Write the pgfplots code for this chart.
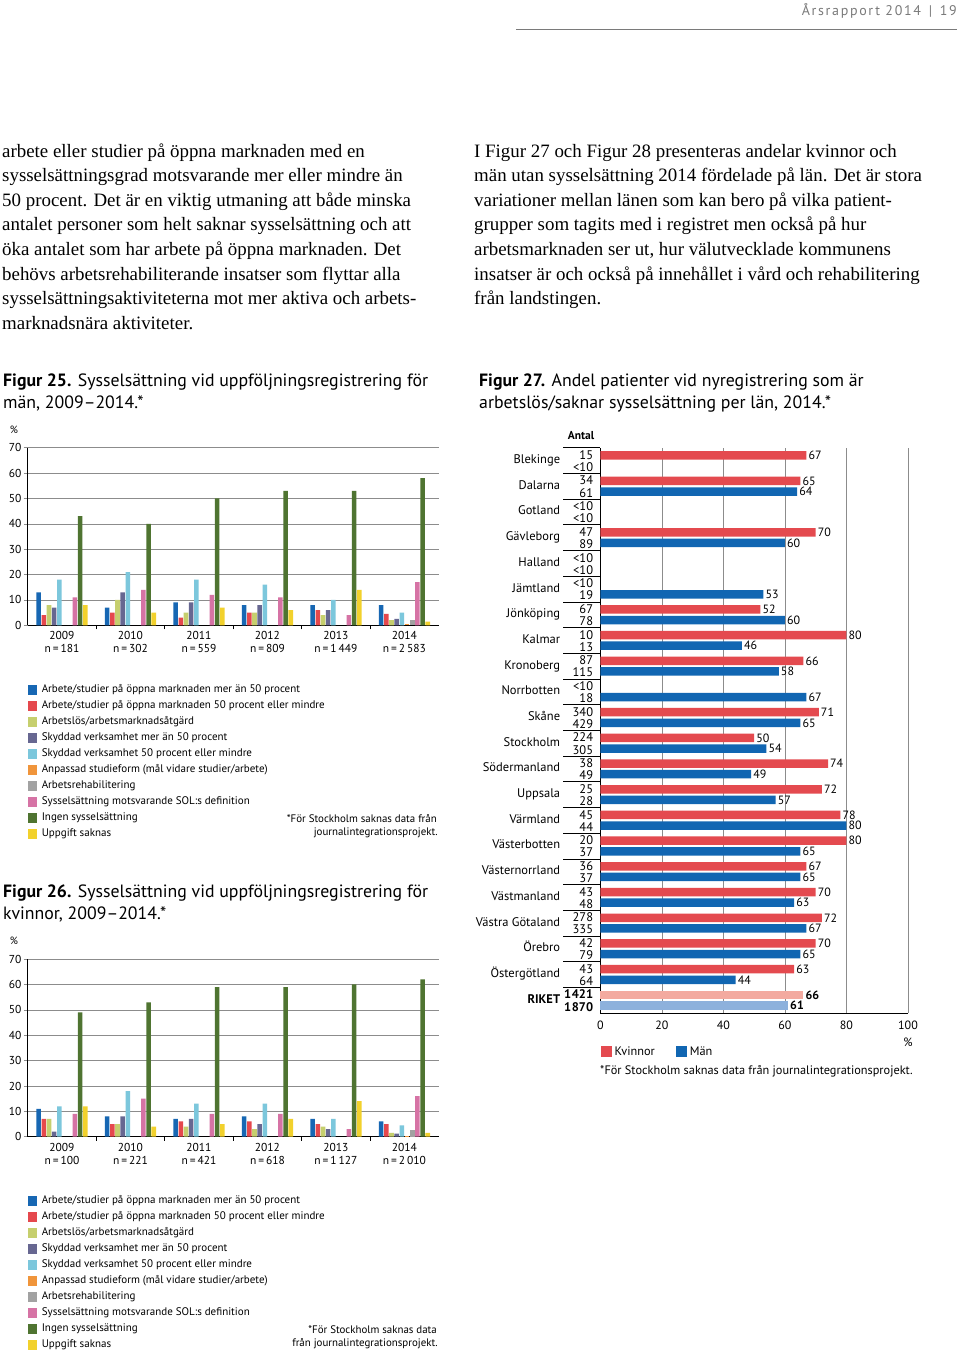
\documentclass[border=0pt]{standalone}
\usepackage{fontspec}
\setmainfont{PT Sans}
\newfontfamily\serif{Liberation Serif}
\newfontfamily\hdr{PT Sans}[LetterSpace=12]
\usepackage{pgfplots}
\pgfplotsset{compat=1.18}
\definecolor{cA}{HTML}{1767B3}
\definecolor{cB}{HTML}{E5484D}
\definecolor{cC}{HTML}{C6CF6E}
\definecolor{cD}{HTML}{676791}
\definecolor{cE}{HTML}{7CC7DC}
\definecolor{cF}{HTML}{F0953B}
\definecolor{cG}{HTML}{A2A2A2}
\definecolor{cH}{HTML}{D673A5}
\definecolor{cI}{HTML}{4F7431}
\definecolor{cJ}{HTML}{F2D12C}
\definecolor{kred}{HTML}{E44A4F}
\definecolor{mblue}{HTML}{1166B2}
\definecolor{kredl}{HTML}{F3AAA0}
\definecolor{mbluel}{HTML}{8DB1DC}
\definecolor{gridc}{HTML}{8C8C8C}
\definecolor{hdrc}{HTML}{7A7A7A}
\newcommand\fs[2]{\fontsize{#1bp}{#2bp}\selectfont}
\newcommand\lab[3]{#1\hspace{7bp}\makebox[26bp][r]{\smash{\raisebox{-1.9bp}{\begin{tabular}[c]{@{}r@{}}#2\\#3\end{tabular}}}}}

\pgfplotsset{
  /pgf/number format/assume math mode=true,
  sb/.style 2 args={ybar, bar width=4.6bp, bar shift=#2, fill=#1, draw=none,
    legend image code/.code={\fill[fill=#1] (0bp,-4.7bp) rectangle (9.4bp,4.7bp);}},
  yearaxis/.style={
    scale only axis, width=411bp, height=177.6bp, anchor=south west,
    xmin=-0.5, xmax=5.5, ymin=0, ymax=70, clip=false,
    xtick={0,...,5}, minor xtick={0.5,1.5,...,4.5}, ytick={0,10,...,70},
    axis lines=left, axis line style={-, black, line width=0.7bp},
    ymajorgrids, grid style={gridc, line width=0.5bp},
    tick align=outside, major tick length=4bp, minor tick length=4bp,
    major x tick style={draw=none}, minor x tick style={black, line width=0.6bp},
    ytick style={gridc, line width=0.5bp},
    xticklabel style={align=center, font=\fs{11.5}{13}, inner sep=2bp},
    yticklabel style={font=\fs{11.5}{13}, inner sep=2bp},
    legend cell align=left,
    legend style={anchor=north west, draw=none, fill=none, inner sep=0pt,
      font=\fs{11}{12}, row sep=6bp,
      nodes={inner sep=0pt, inner xsep=4.5bp, text height=7.5bp, text depth=2.5bp}},
  },
  kbar/.style 2 args={xbar, bar width=8.5bp, bar shift=#2, fill=#1, draw=none,
    every node near coord/.append style={yshift=#2}},
}

\begin{document}
\begin{tikzpicture}
\path[use as bounding box, fill=white] (0,0) rectangle (960bp,-1351bp);

% header
\node[anchor=east, text=hdrc, inner sep=0pt] at (957bp,-11bp) {\hdr\fs{14}{16}Årsrapport 2014 \,|\, 19};
\draw[hdrc, line width=0.8bp] (516bp,-29.5bp) -- (957bp,-29.5bp);

% body text
\begin{scope}[every node/.style={anchor=base west, inner sep=0pt, font=\serif\fs{18.9}{24}}]
\node at (2bp,-157bp) {arbete eller studier på öppna marknaden med en};
\node at (2bp,-181.6bp) {sysselsättningsgrad motsvarande mer eller mindre än};
\node at (2bp,-206.2bp) {50 procent. Det är en viktig utmaning att både minska};
\node at (2bp,-230.8bp) {antalet personer som helt saknar sysselsättning och att};
\node at (2bp,-255.4bp) {öka antalet som har arbete på öppna marknaden. Det};
\node at (2bp,-280bp) {behövs arbetsrehabiliterande insatser som flyttar alla};
\node at (2bp,-304.6bp) {sysselsättningsaktiviteterna mot mer aktiva och arbets-};
\node at (2bp,-329.2bp) {marknadsnära aktiviteter.};
\node at (474bp,-157bp) {I Figur 27 och Figur 28 presenteras andelar kvinnor och};
\node at (474bp,-181.6bp) {män utan sysselsättning 2014 fördelade på län. Det är stora};
\node at (474bp,-206.2bp) {variationer mellan länen som kan bero på vilka patient-};
\node at (474bp,-230.8bp) {grupper som tagits med i registret men också på hur};
\node at (474bp,-255.4bp) {arbetsmarknaden ser ut, hur välutvecklade kommunens};
\node at (474bp,-280bp) {insatser är och också på innehållet i vård och rehabilitering};
\node at (474bp,-304.6bp) {från landstingen.};
\end{scope}

% figure titles
\begin{scope}[every node/.style={anchor=base west, inner sep=0pt, font=\fs{17.8}{20}}]
\node at (3bp,-386bp) {\textbf{Figur 25.} Sysselsättning vid uppföljningsregistrering för};
\node at (3bp,-408bp) {män, 2009--2014.*};
\node at (3bp,-897bp) {\textbf{Figur 26.} Sysselsättning vid uppföljningsregistrering för};
\node at (3bp,-919bp) {kvinnor, 2009--2014.*};
\node at (479bp,-386bp) {\textbf{Figur 27.} Andel patienter vid nyregistrering som är};
\node at (479bp,-408bp) {arbetslös/saknar sysselsättning per län, 2014.*};
\end{scope}

% ---------- Figur 25 ----------
\node[font=\fs{10.5}{12}] at (14bp,-430bp) {\%};
\begin{axis}[yearaxis, at={(27.7bp,-625.3bp)},
  xticklabels={{2009\\n\,=\,181},{2010\\n\,=\,302},{2011\\n\,=\,559},{2012\\n\,=\,809},{2013\\n\,=\,1\,449},{2014\\n\,=\,2\,583}},
  legend style={at={(axis description cs:0,-0.335)}}]
\addplot[sb={cA}{-23.27bp}] coordinates {(0,13) (1,7) (2,9) (3,8) (4,8) (5,8)};
\addplot[sb={cB}{-18.1bp}] coordinates {(0,4) (1,5) (2,3) (3,5) (4,6) (5,4.5)};
\addplot[sb={cC}{-12.93bp}] coordinates {(0,8) (1,10) (2,5) (3,5) (4,4) (5,2)};
\addplot[sb={cD}{-7.76bp}] coordinates {(0,7) (1,13) (2,9) (3,8) (4,6) (5,2.5)};
\addplot[sb={cE}{-2.59bp}] coordinates {(0,18) (1,21) (2,18) (3,16) (4,10) (5,5)};
\addplot[sb={cF}{2.59bp}] coordinates {(5,0.6)};
\addplot[sb={cG}{7.76bp}] coordinates {(5,2.2)};
\addplot[sb={cH}{12.93bp}] coordinates {(0,11) (1,14) (2,12) (3,11) (4,4) (5,17)};
\addplot[sb={cI}{18.1bp}] coordinates {(0,43) (1,40) (2,50) (3,53) (4,53) (5,58)};
\addplot[sb={cJ}{23.27bp}] coordinates {(0,8) (1,5) (2,7) (3,6) (4,14) (5,1.5)};
\legend{Arbete/studier på öppna marknaden mer än 50 procent,
Arbete/studier på öppna marknaden 50 procent eller mindre,
Arbetslös/arbetsmarknadsåtgärd,
Skyddad verksamhet mer än 50 procent,
Skyddad verksamhet 50 procent eller mindre,
Anpassad studieform (mål vidare studier/arbete),
Arbetsrehabilitering,
Sysselsättning motsvarande SOL:s definition,
Ingen sysselsättning,
Uppgift saknas}
\end{axis}
\node[anchor=east, inner sep=0pt, font=\fs{10.9}{12}] at (437bp,-819bp) {*För Stockholm saknas data från};
\node[anchor=east, inner sep=0pt, font=\fs{10.9}{12}] at (438bp,-833bp) {journalintegrationsprojekt.};

% ---------- Figur 26 ----------
\node[font=\fs{10.5}{12}] at (14bp,-941bp) {\%};
\begin{axis}[yearaxis, at={(27.7bp,-1136.7bp)},
  xticklabels={{2009\\n\,=\,100},{2010\\n\,=\,221},{2011\\n\,=\,421},{2012\\n\,=\,618},{2013\\n\,=\,1\,127},{2014\\n\,=\,2\,010}},
  legend style={at={(axis description cs:0,-0.333)}}]
\addplot[sb={cA}{-23.27bp}] coordinates {(0,11) (1,8) (2,7) (3,8) (4,7) (5,6)};
\addplot[sb={cB}{-18.1bp}] coordinates {(0,7) (1,5) (2,6) (3,6) (4,5) (5,5)};
\addplot[sb={cC}{-12.93bp}] coordinates {(0,7) (1,5) (2,4) (3,3) (4,4) (5,1.5)};
\addplot[sb={cD}{-7.76bp}] coordinates {(0,2) (1,8) (2,7) (3,5) (4,3) (5,1.2)};
\addplot[sb={cE}{-2.59bp}] coordinates {(0,12) (1,18) (2,13) (3,13) (4,7) (5,4.5)};
\addplot[sb={cF}{2.59bp}] coordinates {(5,0.3)};
\addplot[sb={cG}{7.76bp}] coordinates {(5,2.5)};
\addplot[sb={cH}{12.93bp}] coordinates {(0,9) (1,15) (2,9) (3,9) (4,3) (5,16)};
\addplot[sb={cI}{18.1bp}] coordinates {(0,49) (1,53) (2,59) (3,59) (4,60) (5,62)};
\addplot[sb={cJ}{23.27bp}] coordinates {(0,12) (1,4) (2,5) (3,7) (4,14) (5,1.5)};
\legend{Arbete/studier på öppna marknaden mer än 50 procent,
Arbete/studier på öppna marknaden 50 procent eller mindre,
Arbetslös/arbetsmarknadsåtgärd,
Skyddad verksamhet mer än 50 procent,
Skyddad verksamhet 50 procent eller mindre,
Anpassad studieform (mål vidare studier/arbete),
Arbetsrehabilitering,
Sysselsättning motsvarande SOL:s definition,
Ingen sysselsättning,
Uppgift saknas}
\end{axis}
\node[anchor=east, inner sep=0pt, font=\fs{10.9}{12}] at (437bp,-1330bp) {*För Stockholm saknas data};
\node[anchor=east, inner sep=0pt, font=\fs{10.9}{12}] at (438bp,-1344bp) {från journalintegrationsprojekt.};

% ---------- Figur 27 ----------
\node[font=\fs{11.5}{13}\bfseries] at (581bp,-436bp) {Antal};
\begin{axis}[at={(600.3bp,-1013bp)}, anchor=south west,
  scale only axis, width=307.7bp, height=565.3bp,
  xmin=0, xmax=100, ymin=-0.5, ymax=21.5, clip=false,
  xtick={0,20,...,100}, ytick={0,...,21}, minor ytick={0.5,1.5,...,21.5},
  axis lines=left, axis line style={-, black, line width=0.8bp},
  xmajorgrids, grid style={gridc, line width=0.6bp},
  major tick length=0pt, minor tick length=37bp, tick align=outside,
  minor y tick style={black, line width=0.6bp},
  xticklabel style={font=\fs{12}{13}, inner sep=8bp},
  yticklabel style={font=\fs{12.5}{10.6}, inner xsep=0pt, xshift=-7bp, text height=8.5bp, text depth=2.5bp},
  yticklabels={\lab{\bfseries RIKET}{\bfseries 1\kern0.6bp 421}{\bfseries 1\kern0.6bp 870},
    \lab{Östergötland}{43}{64}, \lab{Örebro}{42}{79}, \lab{Västra Götaland}{278}{335},
    \lab{Västmanland}{43}{48}, \lab{Västernorrland}{36}{37}, \lab{Västerbotten}{20}{37},
    \lab{Värmland}{45}{44}, \lab{Uppsala}{25}{28}, \lab{Södermanland}{38}{49},
    \lab{Stockholm}{224}{305}, \lab{Skåne}{340}{429}, \lab{Norrbotten}{<10}{18},
    \lab{Kronoberg}{87}{115}, \lab{Kalmar}{10}{13}, \lab{Jönköping}{67}{78},
    \lab{Jämtland}{<10}{19}, \lab{Halland}{<10}{<10}, \lab{Gävleborg}{47}{89},
    \lab{Gotland}{<10}{<10}, \lab{Dalarna}{34}{61}, \lab{Blekinge}{15}{<10}},
  point meta=x,
  nodes near coords, nodes near coords align=horizontal,
  every node near coord/.append style={font=\fs{12}{13}, inner xsep=2bp, anchor=west, text=black},
  legend columns=2,
  legend style={at={(axis description cs:0,-0.058)}, anchor=north west, draw=none, fill=none,
    inner sep=0pt, font=\fs{12.3}{13}, nodes={inner sep=0pt, inner xsep=3bp},
    /tikz/every even column/.append style={column sep=18bp}},
]
\addplot[kbar={kred}{5.3bp},
  legend image code/.code={\fill[fill=kred] (0bp,-5.5bp) rectangle (11bp,5.5bp);}]
  coordinates {(67,21) (65,20) (70,18) (52,15) (80,14) (66,13) (71,11) (50,10) (74,9) (72,8) (78,7) (80,6) (67,5) (70,4) (72,3) (70,2) (63,1)};
\addplot[kbar={mblue}{-5.3bp},
  legend image code/.code={\fill[fill=mblue] (0bp,-5.5bp) rectangle (11bp,5.5bp);}]
  coordinates {(64,20) (60,18) (53,16) (60,15) (46,14) (58,13) (67,12) (65,11) (54,10) (49,9) (57,8) (80,7) (65,6) (65,5) (63,4) (67,3) (65,2) (44,1)};
\addplot[kbar={kredl}{5.3bp}, forget plot,
  every node near coord/.append style={font=\fs{12}{13}\bfseries}]
  coordinates {(66,0)};
\addplot[kbar={mbluel}{-5.3bp}, forget plot,
  every node near coord/.append style={font=\fs{12}{13}\bfseries}]
  coordinates {(61,0)};
\legend{Kvinnor, Män}
\end{axis}
\node[font=\fs{12}{13}] at (908bp,-1042bp) {\%};
\node[anchor=west, inner sep=0pt, font=\fs{12.3}{13}] at (600bp,-1071bp) {*För Stockholm saknas data från journalintegrationsprojekt.};
\end{tikzpicture}
\end{document}
